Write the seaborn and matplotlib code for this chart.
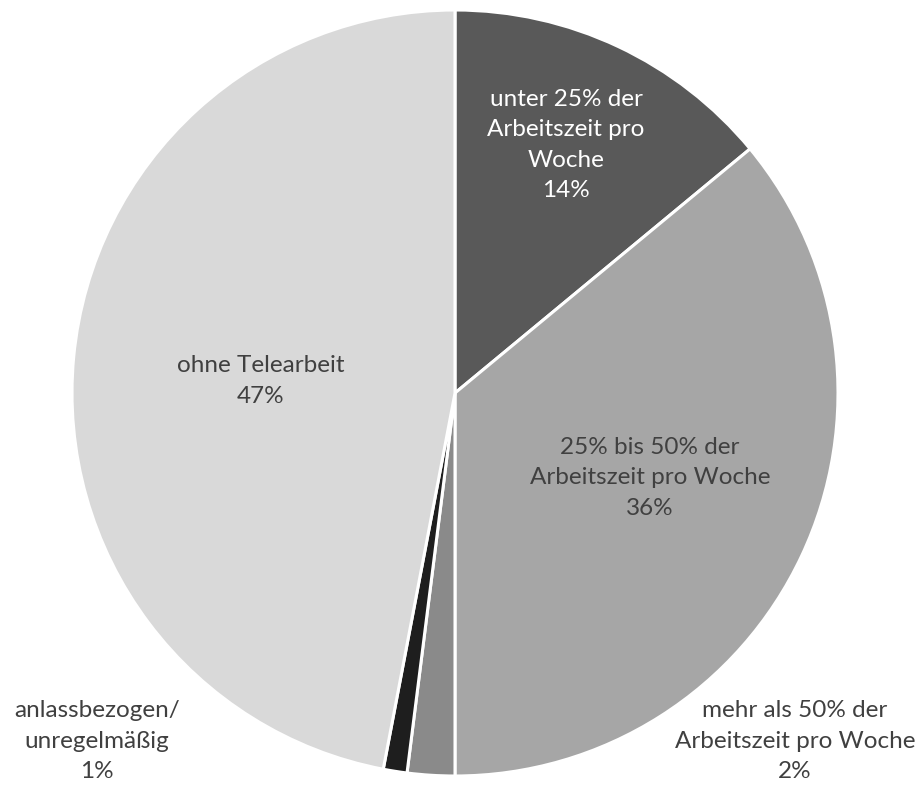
import matplotlib
matplotlib.use("Agg")
import matplotlib.pyplot as plt
import seaborn as sns

# Shares of telework among employees
categories = [
    "unter 25% der\nArbeitszeit pro\nWoche",
    "25% bis 50% der\nArbeitszeit pro Woche",
    "mehr als 50% der\nArbeitszeit pro Woche",
    "anlassbezogen/\nunregelmäßig",
    "ohne Telearbeit",
]
shares = [14, 36, 2, 1, 47]
colors = ["#595959", "#a6a6a6", "#8a8a8a", "#1e1e1e", "#d9d9d9"]
text_colors = ["white", "#404040", "#404040", "#404040", "#404040"]

sns.set_theme(style="white")
plt.rcParams["font.family"] = ["Lato", "DejaVu Sans"]

W, H = 924, 785
cx, cy, r = 455, 393, 383
fig = plt.figure(figsize=(W / 100, H / 100), dpi=100)
ax = fig.add_axes([(cx - r) / W, (H - cy - r) / H, 2 * r / W, 2 * r / H])

ax.pie(shares, colors=colors, startangle=90, counterclock=False,
       wedgeprops=dict(edgecolor="white", linewidth=2.2))
ax.set_xlim(-1, 1)
ax.set_ylim(-1, 1)
ax.set_aspect("equal")
ax.axis("off")

# label centres in figure pixels
label_px = [(566, 145), (650, 478), (795, 741), (97, 741), (261, 381)]
for cat, val, tc, (px, py) in zip(categories, shares, text_colors, label_px):
    fig.text(px / W, 1 - py / H, f"{cat}\n{val}%", ha="center", va="center",
             color=tc, fontsize=17.5, linespacing=1.55)

fig.savefig("out.png", dpi=100)
